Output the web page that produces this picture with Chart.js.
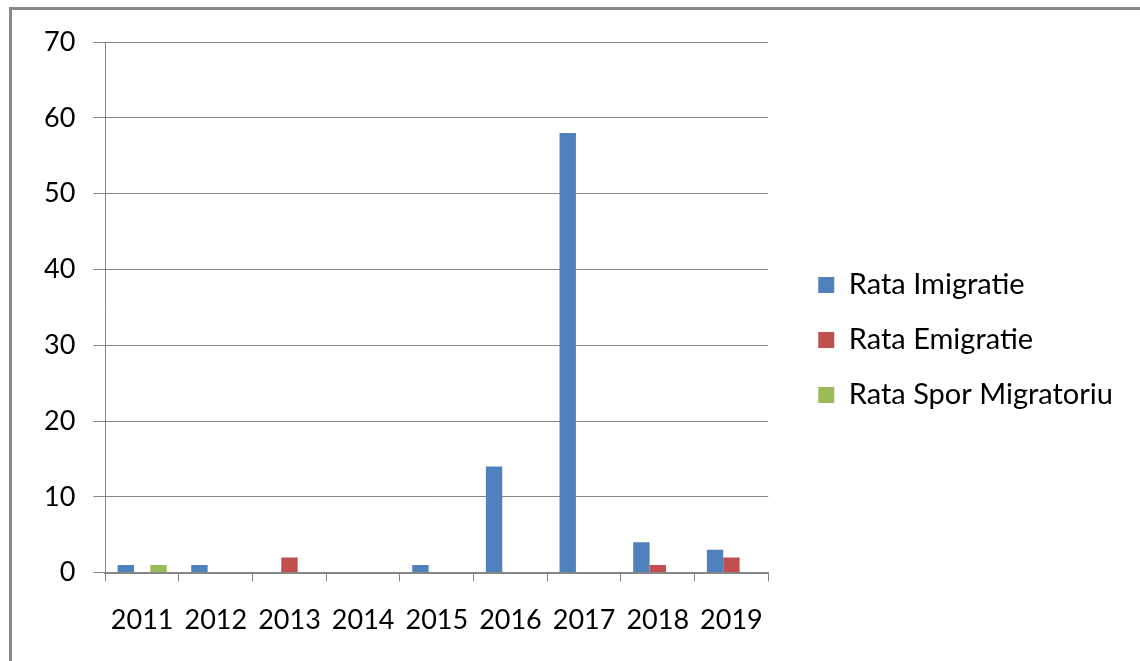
<!DOCTYPE html>
<html><head><meta charset="utf-8">
<script src="https://cdn.jsdelivr.net/npm/chart.js@4/dist/chart.umd.min.js"></script>
<style>
html,body{margin:0;padding:0;background:#fff;width:1140px;height:661px;overflow:hidden}
#frame{position:absolute;left:9px;top:7px;width:1200px;height:700px;border-left:3px solid #878787;border-top:3px solid #878787;box-sizing:border-box}
#wrap{position:absolute;left:0;top:0;width:1140px;height:661px}
</style></head><body>
<div id="frame"></div>
<div id="wrap"><canvas id="c"></canvas></div>
<script>
const categories = ['2011','2012','2013','2014','2015','2016','2017','2018','2019'];
const imigratie = [1,1,0,0,1,14,58,4,3];
const emigratie = [0,0,2,0,0,0,0,1,2];
const sporMigratoriu = [1,0,0,0,0,0,0,0,0];
const yTicks = [0,10,20,30,40,50,60,70];
const seriesNames = ['Rata Imigratie','Rata Emigratie','Rata Spor Migratoriu'];

const FONT = "Lato, sans-serif";
const gridColor = '#868686';

const legendShift = {
  id: 'legendShift',
  afterLayout(chart) {
    if (chart.legend) { chart.legend.top -= 10; chart.legend.bottom -= 10; }
  }
};

function draw() {
  new Chart(document.getElementById('c'), {
    type: 'bar',
    plugins: [legendShift],
    data: {
      labels: categories,
      datasets: [
        {label: seriesNames[0], data: imigratie, backgroundColor: '#4F81BD'},
        {label: seriesNames[1], data: emigratie, backgroundColor: '#C0504D'},
        {label: seriesNames[2], data: sporMigratoriu, backgroundColor: '#9BBB59'}
      ]
    },
    options: {
      responsive: true,
      maintainAspectRatio: false,
      animation: false,
      datasets: {bar: {categoryPercentage: 0.667, barPercentage: 1.0}},
      layout: {padding: {left: 26, top: 42, right: 17, bottom: 3}},
      plugins: {
        tooltip: {enabled: false},
        legend: {
          position: 'right',
          align: 'center',
          maxWidth: 420,
          labels: {
            font: {family: FONT, size: 29},
            color: '#000',
            boxWidth: 16, boxHeight: 16,
            padding: 26
          }
        }
      },
      scales: {
        x: {
          offset: true,
          grid: {offset: true, drawOnChartArea: false, drawTicks: true, tickLength: 9, color: gridColor, lineWidth: 1},
          border: {display: true, color: gridColor, width: 2},
          ticks: {font: {family: FONT, size: 27}, color: '#000', padding: 22, maxRotation: 0, autoSkip: false}
        },
        y: {
          min: 0, max: 70,
          afterBuildTicks: (s) => { s.ticks = yTicks.map(v => ({value: v})); },
          grid: {color: gridColor, lineWidth: 1, drawTicks: true, tickLength: 12},
          border: {display: true, color: gridColor, width: 1},
          ticks: {font: {family: FONT, size: 27}, color: '#000', padding: 18}
        },
        gap: {
          type: 'linear',
          position: 'right',
          display: true,
          grid: {display: false},
          border: {display: false},
          ticks: {display: false},
          afterFit: (s) => { s.width = 24; }
        }
      }
    }
  });
}
Promise.all([
  document.fonts.load("29px Lato"),
  document.fonts.load("27px Lato")
]).then(draw, draw);
</script>
</body></html>
